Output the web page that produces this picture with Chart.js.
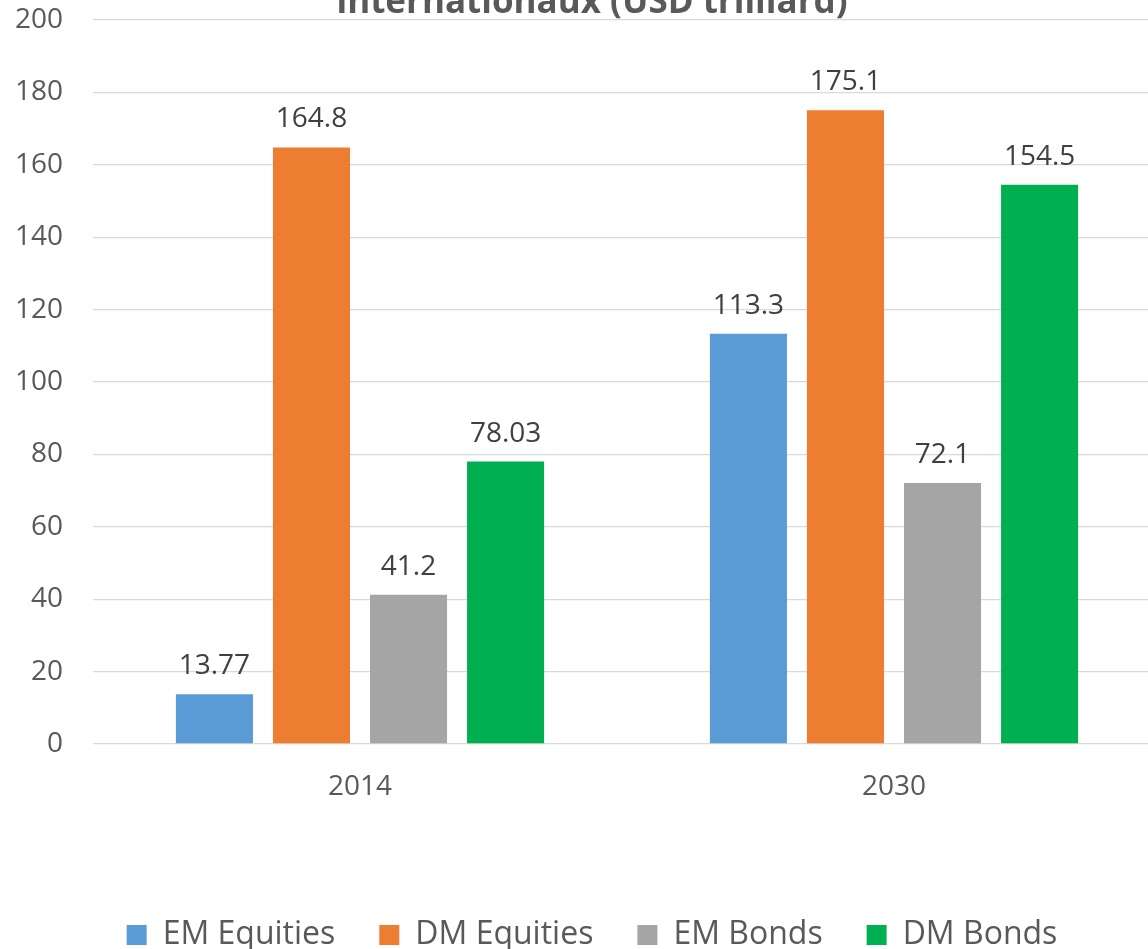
<!DOCTYPE html>
<html>
<head>
<meta charset="utf-8">
<script src="https://cdn.jsdelivr.net/npm/chart.js@4/dist/chart.umd.min.js"></script>
<style>
  html, body { margin: 0; padding: 0; overflow: hidden; background: #fff; }
  #wrap { position: absolute; left: 0; top: -60px; width: 1184px; height: 1023px; }
</style>
</head>
<body>
<div id="wrap"><canvas id="chart"></canvas></div>
<script>
const years = ['2014', '2030'];
const emEquities = [13.77, 113.3];
const dmEquities = [164.8, 175.1];
const emBonds = [41.2, 72.1];
const dmBonds = [78.03, 154.5];
const yTicks = [0, 20, 40, 60, 80, 100, 120, 140, 160, 180, 200];

const font = '"Open Sans", Lato, sans-serif';

const valueLabels = {
    id: 'valueLabels',
    afterDatasetsDraw(chart) {
        const ctx = chart.ctx;
        ctx.save();
        ctx.font = '28px ' + font;
        ctx.fillStyle = '#404040';
        ctx.textAlign = 'center';
        ctx.textBaseline = 'bottom';
        chart.data.datasets.forEach((ds, i) => {
            chart.getDatasetMeta(i).data.forEach((bar, j) => {
                ctx.fillText(String(ds.data[j]), bar.x, bar.y - 14);
            });
        });
        ctx.restore();
    }
};

const ctx = document.getElementById('chart').getContext('2d');
new Chart(ctx, {
    type: 'bar',
    data: {
        labels: years,
        datasets: [
            {label: 'EM Equities', data: emEquities, backgroundColor: '#5b9bd5'},
            {label: 'DM Equities', data: dmEquities, backgroundColor: '#ed7d31'},
            {label: 'EM Bonds', data: emBonds, backgroundColor: '#a5a5a5'},
            {label: 'DM Bonds', data: dmBonds, backgroundColor: '#00b050'}
        ]
    },
    options: {
        responsive: true,
        maintainAspectRatio: false,
        animation: false,
        barPercentage: 0.794,
        categoryPercentage: 0.727,
        layout: {padding: {left: 0, right: 0, top: 0, bottom: 2}},
        plugins: {
            title: {
                display: true,
                text: ['Taille des marchés financiers', 'internationaux (USD trilliard)'],
                color: '#595959',
                font: {family: font, size: 35, weight: 'bold', lineHeight: 1.0},
                padding: {top: 11, bottom: -1}
            },
            legend: {
                position: 'bottom',
                labels: {
                    color: '#595959',
                    font: {family: font, size: 32},
                    boxWidth: 20,
                    boxHeight: 20,
                    padding: 44
                }
            },
            tooltip: {enabled: false}
        },
        scales: {
            x: {
                grid: {display: false},
                border: {display: false},
                ticks: {color: '#595959', font: {family: font, size: 28}, padding: 18},
                afterFit(scale) { scale.height = 131; }
            },
            y: {
                min: 0,
                max: 200,
                afterBuildTicks(scale) { scale.ticks = yTicks.map(v => ({value: v})); },
                grid: {color: '#d9d9d9', lineWidth: 1.3, drawTicks: false},
                border: {display: false},
                ticks: {color: '#595959', font: {family: font, size: 28}, padding: 30},
                afterFit(scale) { scale.width = 93; }
            },
            yRight: {
                position: 'right',
                min: 0,
                max: 200,
                grid: {display: false},
                border: {display: false},
                ticks: {display: false},
                afterFit(scale) { scale.width = 23; }
            }
        }
    },
    plugins: [valueLabels]
});
</script>
</body>
</html>
